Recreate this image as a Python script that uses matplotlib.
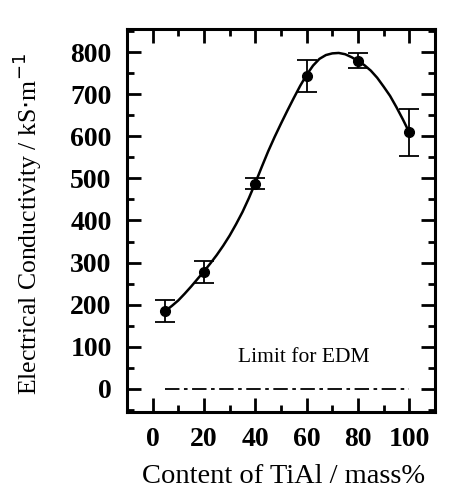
import matplotlib
matplotlib.use("Agg")
import matplotlib.pyplot as plt
from matplotlib.ticker import MultipleLocator

# measured points (content of TiAl, conductivity, error)
tial = [5, 20, 40, 60, 80, 100]
cond = [185, 277, 487, 743, 780, 609]
err = [27, 26, 13, 38, 18, 56]

# smooth guide curve
curve_x = [5, 7.5, 10, 12.5, 15, 17.5, 20, 22.5, 25, 27.5, 30, 32.5, 35, 37.5, 40,
           42.5, 45, 47.5, 50, 52.5, 55, 57.5, 60, 62.5, 65, 67.5, 70, 72.5, 75,
           77.5, 80, 82.5, 85, 87.5, 90, 92.5, 95, 97.5, 100]
curve_y = [185, 197, 210, 226, 243, 261, 279, 298, 318, 340, 364, 391, 420, 453, 489,
           527, 564, 598, 630, 661, 691, 720, 746, 768, 784, 793, 797, 798, 795,
           788, 779, 769, 756, 739, 718, 696, 669, 640, 609]

# EDM limit line
limit_x = [5, 100]
limit_y = [0, 0]

xticks = [0, 20, 40, 60, 80, 100]
yticks = [0, 100, 200, 300, 400, 500, 600, 700, 800]

plt.rcParams['font.family'] = ['Liberation Serif', 'DejaVu Serif']

fig = plt.figure(figsize=(4.55, 4.91), dpi=100)
ax = fig.add_axes([0.279, 0.161, 0.677, 0.780])

ax.plot(curve_x, curve_y, color='black', lw=1.8)
ax.errorbar(tial, cond, yerr=err, fmt='o', color='black', ms=7,
            elinewidth=1.3, capsize=7, capthick=1.3)
ax.plot(limit_x, limit_y, color='black', lw=1.3, dashes=(8, 2.5, 2, 2.5))
ax.text(59, 52, 'Limit for EDM', ha='center', va='bottom', fontsize=15.5)

ax.set_xlim(-10, 110)
ax.set_ylim(-55, 855)
ax.set_xticks(xticks)
ax.set_yticks(yticks)
ax.xaxis.set_minor_locator(MultipleLocator(10))
ax.yaxis.set_minor_locator(MultipleLocator(50))

ax.tick_params(which='both', direction='in', top=True, right=True, width=2)
ax.tick_params(which='major', length=10, labelsize=20, pad=11)
ax.tick_params(which='minor', length=5)
for lab in ax.get_xticklabels() + ax.get_yticklabels():
    lab.set_fontweight('bold')
for s in ax.spines.values():
    s.set_linewidth(2.2)

ax.set_xlabel('Content of TiAl / mass%', fontsize=20.5)
ax.set_ylabel(r'Electrical Conductivity / kS$\cdot$m$^{-1}$', fontsize=18.5)
ax.yaxis.set_label_coords(-0.27, 0.49)
ax.xaxis.set_label_coords(0.51, -0.135)

plt.savefig('out.png', dpi=100)
